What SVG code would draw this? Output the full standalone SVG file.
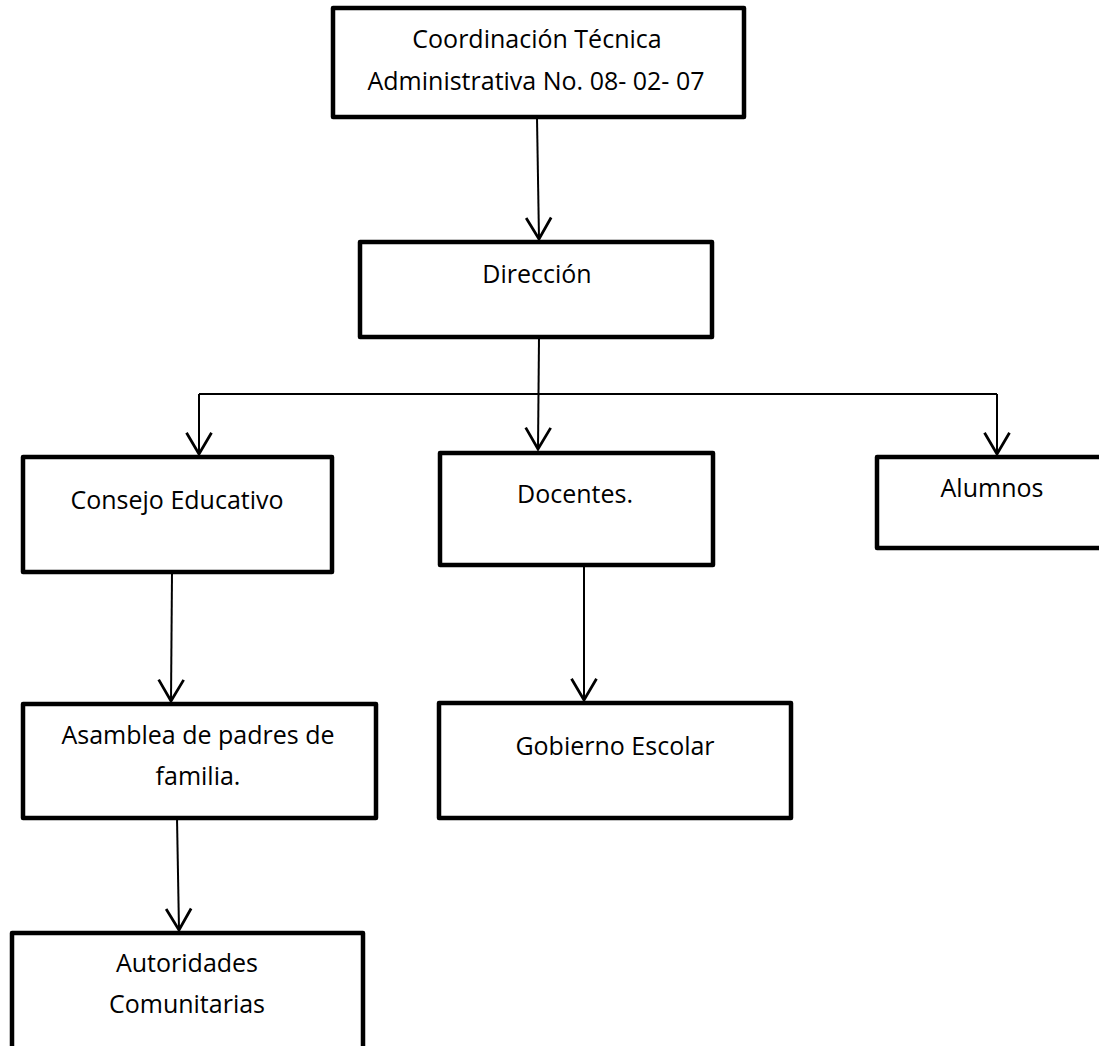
<svg xmlns="http://www.w3.org/2000/svg" width="1099" height="1046" viewBox="0 0 1099 1046">
<style>
.box{fill:#fff;stroke:#000;stroke-width:4.5;stroke-linejoin:round}
.lbl{font-family:"Open Sans","Liberation Sans",sans-serif;font-size:25px;fill:#000;text-anchor:middle}
.con{fill:none;stroke:#000;stroke-width:2}
</style>
<defs>
<marker id="arr" markerUnits="userSpaceOnUse" markerWidth="30" markerHeight="30" refX="0" refY="0" viewBox="-20 -12 22 24" orient="auto" overflow="visible">
<path d="M-17,-10 L0,0 L-17,10" fill="none" stroke="#000" stroke-width="2.2"/>
</marker>
</defs>
<rect width="1099" height="1046" fill="#fff"/>
<g id="connectors">
<path class="con" d="M537,118 L539,239" marker-end="url(#arr)"/>
<path class="con" d="M539,337 L538,449" marker-end="url(#arr)"/>
<path class="con" d="M199,394 L997,394"/>
<path class="con" d="M199,394 L199,454" marker-end="url(#arr)"/>
<path class="con" d="M997,394 L997,454" marker-end="url(#arr)"/>
<path class="con" d="M172,572 L171,701" marker-end="url(#arr)"/>
<path class="con" d="M177,818 L179,930" marker-end="url(#arr)"/>
<path class="con" d="M584,565 L584,700" marker-end="url(#arr)"/>
</g>
<g id="coordinacion">
<rect class="box" x="333" y="8" width="411" height="109"/>
<text class="lbl" x="537" y="48">Coordinación Técnica</text>
<text class="lbl" x="536" y="90">Administrativa No. 08- 02- 07</text>
</g>
<g id="direccion">
<rect class="box" x="360" y="242" width="352" height="95"/>
<text class="lbl" x="537" y="283">Dirección</text>
</g>
<g id="consejo">
<rect class="box" x="23" y="457" width="309" height="115"/>
<text class="lbl" x="177" y="509">Consejo Educativo</text>
</g>
<g id="docentes">
<rect class="box" x="440" y="453" width="273" height="112"/>
<text class="lbl" x="575" y="503">Docentes.</text>
</g>
<g id="alumnos">
<rect class="box" x="877" y="457" width="240" height="91"/>
<text class="lbl" x="992" y="497">Alumnos</text>
</g>
<g id="asamblea">
<rect class="box" x="23" y="704" width="353" height="114"/>
<text class="lbl" x="198" y="744">Asamblea de padres de</text>
<text class="lbl" x="198" y="785">familia.</text>
</g>
<g id="gobierno">
<rect class="box" x="439" y="703" width="352" height="115"/>
<text class="lbl" x="615" y="755">Gobierno Escolar</text>
</g>
<g id="autoridades">
<rect class="box" x="12" y="933" width="351" height="130"/>
<text class="lbl" x="187" y="972">Autoridades</text>
<text class="lbl" x="187" y="1013">Comunitarias</text>
</g>
</svg>
